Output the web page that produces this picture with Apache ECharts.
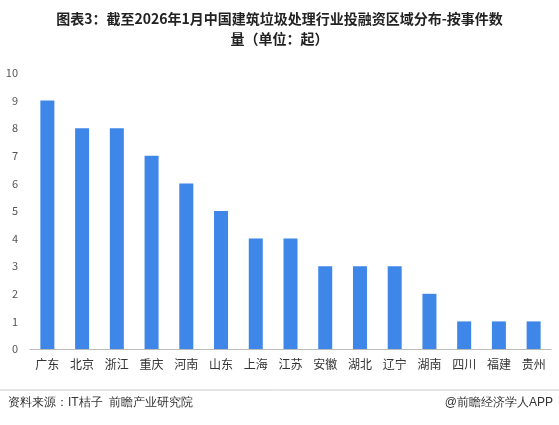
<!DOCTYPE html>
<html>
<head>
<meta charset="utf-8">
<script src="https://cdn.jsdelivr.net/npm/echarts@6/dist/echarts.min.js"></script>
<style>body{margin:0;background:#fff}#c{width:559px;height:425px}</style>
</head>
<body>
<div id="c"></div>
<script>
var provinces = ['广东','北京','浙江','重庆','河南','山东','上海','江苏','安徽','湖北','辽宁','湖南','四川','福建','贵州'];
var counts = [9,8,8,7,6,5,4,4,3,3,3,2,1,1,1];

var chart = echarts.init(document.getElementById('c'));
chart.setOption({
  textStyle: { fontFamily: 'Noto Sans CJK SC' },
  title: {
    text: '图表3：截至2026年1月中国建筑垃圾处理行业投融资区域分布-按事件数\n量（单位：起）',
    left: 'center', top: 4,
    textStyle: { fontSize: 14, fontWeight: 'bold', color: '#222', lineHeight: 20, fontFamily: 'Noto Sans CJK SC' }
  },
  grid: { left: 30, right: 8, top: 73, bottom: 76 },
  xAxis: {
    type: 'category', data: provinces,
    axisTick: { show: false },
    axisLine: { lineStyle: { color: '#bbb' } },
    axisLabel: { color: '#333', fontSize: 12, margin: 9 }
  },
  yAxis: {
    type: 'value', min: 0, max: 10, interval: 1,
    splitLine: { show: false },
    axisLabel: { color: '#555', fontSize: 11, margin: 12 }
  },
  series: [{
    type: 'bar', data: counts, barWidth: 14,
    itemStyle: { color: '#3e87e8' }
  }],
  graphic: [
    { type: 'line', shape: { x1: 0, y1: 390, x2: 559, y2: 390 }, style: { stroke: '#ccc', lineWidth: 1 } },
    { type: 'text', left: 8, top: 397, style: { text: '资料来源：IT桔子  前瞻产业研究院', fontSize: 12, fill: '#333', font: '12px Noto Sans CJK SC' } },
    { type: 'text', right: 6, top: 397, style: { text: '@前瞻经济学人APP', fontSize: 12, fill: '#333', font: '12px Noto Sans CJK SC' } }
  ]
});
</script>
</body>
</html>
